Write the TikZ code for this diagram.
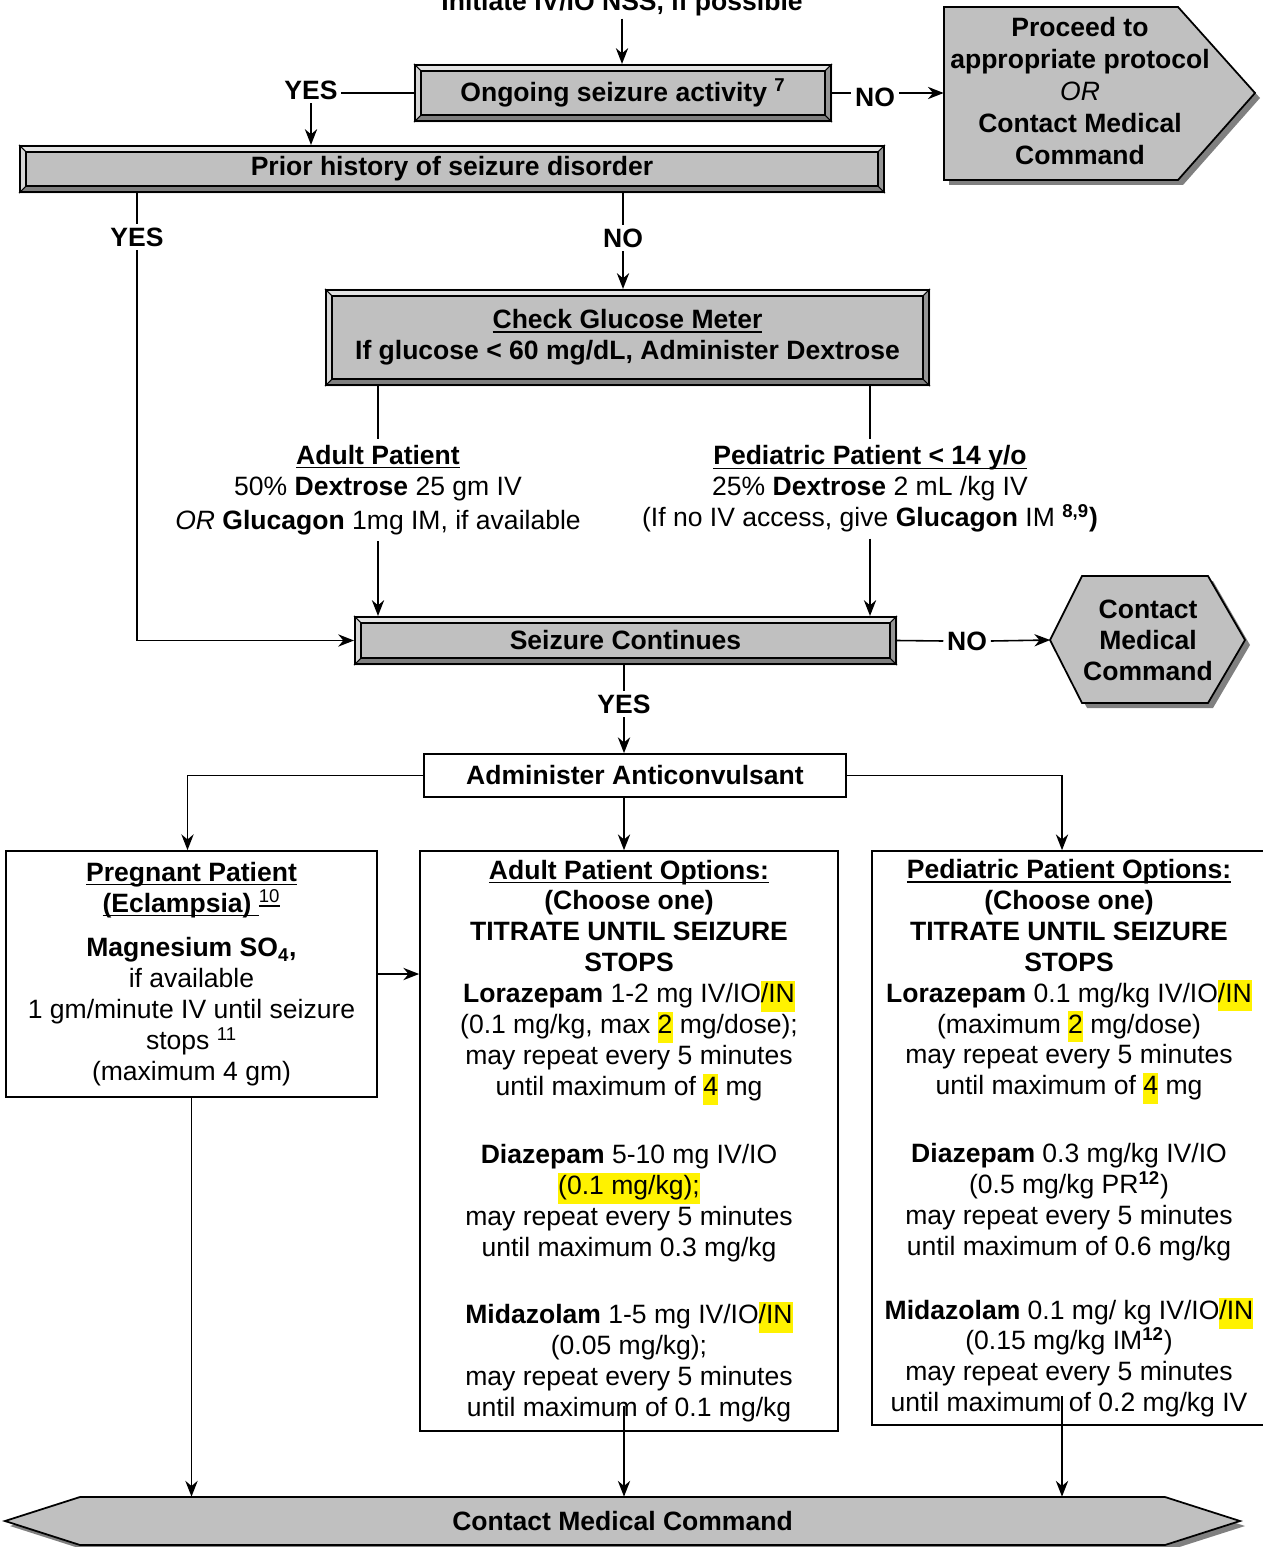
\documentclass[tikz,border=0pt]{standalone}
\usepackage{fontspec}
\setmainfont{Liberation Sans}
\usetikzlibrary{arrows.meta, positioning, calc}
\pgfdeclarelayer{background}
\pgfsetlayers{background,main}

\definecolor{facegray}{HTML}{C0C0C0}
\definecolor{bevlight}{HTML}{E3E3E3}
\definecolor{bevside}{HTML}{D6D6D6}
\definecolor{bevdark}{HTML}{7F7F7F}
\definecolor{bevright}{HTML}{959595}
\definecolor{shadowgray}{HTML}{808080}

\newcommand{\flowfont}{\fontsize{15.1}{17.6}\selectfont}
\newsavebox{\ulnbox}
\newcommand{\uln}[1]{\sbox{\ulnbox}{#1}\rlap{\rule[-2.4pt]{\wd\ulnbox}{0.9pt}}\usebox{\ulnbox}}
\newcommand{\hilite}[1]{{\setlength{\fboxsep}{0pt}\colorbox{yellow}{\strut #1}}}

\begin{document}
\begin{tikzpicture}[x=0.02cm, y=-0.02cm]
    \tikzstyle{bevelbox} = [rectangle, draw, line width=1.2pt, font=\flowfont\bfseries, align=center, inner sep=0pt]
    \tikzstyle{plainbox} = [rectangle, draw, line width=1pt, fill=white, font=\flowfont, align=center, inner sep=0pt]
    \tikzstyle{shapetext} = [font=\flowfont\bfseries, align=center, inner sep=0pt]
    \tikzstyle{yesno} = [font=\flowfont\bfseries, inner sep=2pt]
    \tikzstyle{arrow} = [line width=0.9pt,->,>={Stealth[length=9pt,width=7pt]}]
    \tikzstyle{link} = [line width=0.9pt]

    \useasboundingbox (0,0) rectangle (1262,1547);

    \node (init) [yesno, anchor=base, inner sep=1pt] at (622,11) {Initiate IV/IO NSS, if possible};
    \node (ongoing) [bevelbox, minimum width=8.32cm, minimum height=1.12cm] at (623,93) {Ongoing seizure activity \textsuperscript{7}};
    \node (yesA) [yesno] at (311,90) {YES};
    \node (noA) [yesno] at (875,97) {NO};
    \node (proceed) [shapetext, font=\fontsize{15.1}{18.2}\selectfont\bfseries, minimum width=5.44cm, minimum height=3.46cm] at (1080,91) {Proceed to\\appropriate protocol\\\textnormal{\itshape OR}\\Contact Medical\\Command};
    \node (prior) [bevelbox, minimum width=17.28cm, minimum height=0.92cm] at (452,169) {Prior history of seizure disorder};
    \node (yesB) [yesno] at (137,237) {YES};
    \node (noB) [yesno] at (623,238) {NO};
    \node (glucose) [bevelbox, minimum width=12.06cm, minimum height=1.9cm] at (627.5,337.5) {\uln{Check Glucose Meter}\\If glucose < 60 mg/dL, Administer Dextrose};
    \node (adultdex) [font=\flowfont, align=center] at (378,490) {\textbf{\uln{Adult Patient}}\\50\% \textbf{Dextrose} 25 gm IV\\[2pt]\textit{OR} \textbf{Glucagon} 1mg IM, if available};
    \node (peddex) [font=\flowfont, align=center] at (870,489) {\textbf{\uln{Pediatric Patient < 14 y/o}}\\25\% \textbf{Dextrose} 2 mL /kg IV\\(If no IV access, give \textbf{Glucagon} IM \textsuperscript{\textbf{8,9}}\textbf{)}};
    \node (continues) [bevelbox, minimum width=10.82cm, minimum height=0.94cm] at (625.5,640.5) {Seizure Continues};
    \node (noC) [yesno] at (967,641) {NO};
    \node (hexa) [shapetext, minimum width=3.9cm, minimum height=2.56cm] at (1148,640) {Contact\\Medical\\Command};
    \node (yesC) [yesno] at (624,704) {YES};
    \node (admin) [plainbox, font=\flowfont\bfseries, minimum width=8.44cm, minimum height=0.86cm] at (635,775.5) {Administer Anticonvulsant};
    \node (pregnant) [plainbox, minimum width=7.42cm, minimum height=4.92cm] at (191.5,974) {\textbf{\uln{Pregnant Patient}}\\\textbf{\uln{(Eclampsia)\ }}\textsuperscript{\uln{10}}\\[8pt]\textbf{Magnesium SO\textsubscript{4},}\\if available\\1 gm/minute IV until seizure\\stops \textsuperscript{11}\\(maximum 4 gm)};
    \node (adultopt) [plainbox, minimum width=8.36cm, minimum height=11.6cm] at (629,1141) {\textbf{\uln{Adult Patient Options:}}\\\textbf{(Choose one)}\\\textbf{TITRATE UNTIL SEIZURE}\\\textbf{STOPS}\\\textbf{Lorazepam} 1-2 mg IV/IO\hilite{/IN}\\(0.1 mg/kg, max \hilite{2} mg/dose);\\may repeat every 5 minutes\\until maximum of \hilite{4} mg\\[21pt]\textbf{Diazepam} 5-10 mg IV/IO\\\hilite{(0.1 mg/kg);}\\may repeat every 5 minutes\\until maximum 0.3 mg/kg\\[21pt]\textbf{Midazolam} 1-5 mg IV/IO\hilite{/IN}\\(0.05 mg/kg);\\may repeat every 5 minutes\\until maximum of 0.1 mg/kg};
    \node (pedopt) [plainbox, minimum width=7.88cm, minimum height=11.48cm] at (1069,1138) {\textbf{\uln{Pediatric Patient Options:}}\\\textbf{(Choose one)}\\\textbf{TITRATE UNTIL SEIZURE}\\\textbf{STOPS}\\\textbf{Lorazepam} 0.1 mg/kg IV/IO\hilite{/IN}\\(maximum \hilite{2} mg/dose)\\may repeat every 5 minutes\\until maximum of \hilite{4} mg\\[21pt]\textbf{Diazepam} 0.3 mg/kg IV/IO\\(0.5 mg/kg PR\textsuperscript{\textbf{12}})\\may repeat every 5 minutes\\until maximum of 0.6 mg/kg\\[19pt]\textbf{Midazolam} 0.1 mg/ kg IV/IO\hilite{/IN}\\[-2pt](0.15 mg/kg IM\textsuperscript{\textbf{12}})\\may repeat every 5 minutes\\until maximum of 0.2 mg/kg IV};
    \node (contact) [shapetext, minimum width=24.7cm, minimum height=0.96cm] at (622.5,1521) {Contact Medical Command};

    % Shapes behind the nodes
    \begin{pgfonlayer}{background}
    \begin{scope}[shift={(5,5)}]
        \fill[shadowgray] (944,7) -- (1178,7) -- (1255,93) -- (1178,180) -- (944,180) -- cycle;
        \fill[shadowgray] (1050,640) -- (1082,576) -- (1208,576) -- (1245,640) -- (1208,703) -- (1082,703) -- cycle;
        \fill[shadowgray] (5,1521) -- (80,1497) -- (1165,1497) -- (1240,1521) -- (1165,1545) -- (80,1545) -- cycle;
    \end{scope}
    \filldraw[fill=facegray, line width=1pt] (944,7) -- (1178,7) -- (1255,93) -- (1178,180) -- (944,180) -- cycle;
    \filldraw[fill=facegray, line width=1pt] (1050,640) -- (1082,576) -- (1208,576) -- (1245,640) -- (1208,703) -- (1082,703) -- cycle;
    \filldraw[fill=facegray, line width=1pt] (5,1521) -- (80,1497) -- (1165,1497) -- (1240,1521) -- (1165,1545) -- (80,1545) -- cycle;
    \foreach \n in {ongoing,prior,glucose,continues}{
        \fill[facegray] (\n.north west) rectangle (\n.south east);
        \fill[bevlight] (\n.north west) -- (\n.north east) -- ([shift={(-7,7)}]\n.north east) -- ([shift={(7,7)}]\n.north west) -- cycle;
        \fill[bevside] (\n.north west) -- ([shift={(7,7)}]\n.north west) -- ([shift={(7,-7)}]\n.south west) -- (\n.south west) -- cycle;
        \fill[bevdark] (\n.south west) -- ([shift={(7,-7)}]\n.south west) -- ([shift={(-7,-7)}]\n.south east) -- (\n.south east) -- cycle;
        \fill[bevright] (\n.south east) -- ([shift={(-7,-7)}]\n.south east) -- ([shift={(-7,7)}]\n.north east) -- (\n.north east) -- cycle;
        \draw[line width=0.8pt] ([shift={(7,7)}]\n.north west) rectangle ([shift={(-7,-7)}]\n.south east);
        \draw[line width=0.6pt] (\n.north west) -- ([shift={(7,7)}]\n.north west) (\n.north east) -- ([shift={(-7,7)}]\n.north east) (\n.south west) -- ([shift={(7,-7)}]\n.south west) (\n.south east) -- ([shift={(-7,-7)}]\n.south east);
    }
    \end{pgfonlayer}

    % Arrows
    \draw [arrow] (init.south) -- (init.south |- ongoing.north);
    \draw [link] (ongoing.west) -- (ongoing.west -| yesA.east);
    \draw [arrow] (yesA.south) -- (yesA.south |- prior.north);
    \draw [link] (ongoing.east) -- (ongoing.east -| noA.west);
    \draw [arrow] (noA.east |- ongoing.east) -- (proceed.west |- ongoing.east);
    \draw [link] (prior.south -| yesB) -- (yesB.north);
    \draw [arrow] (yesB.south) |- (continues.west);
    \draw [link] (prior.south -| noB) -- (noB.north);
    \draw [arrow] (noB.south) -- (noB.south |- glucose.north);
    \draw [link] (glucose.south -| adultdex) -- (adultdex.north);
    \draw [link] (glucose.south -| peddex) -- (peddex.north);
    \draw [arrow] (adultdex.south) -- (adultdex.south |- continues.north);
    \draw [arrow] (peddex.south) -- (peddex.south |- continues.north);
    \draw [link] (continues.east) -- (noC.west);
    \draw [arrow] (noC.east) -- (hexa.west);
    \draw [link] (continues.south -| yesC) -- (yesC.north);
    \draw [arrow] (yesC.south) -- (yesC.south |- admin.north);
    \draw [arrow] (admin.west) -| ([xshift=-0.08cm]pregnant.north);
    \draw [arrow] (admin.south -| yesC) -- (adultopt.north -| yesC);
    \draw [arrow] (admin.east) -| ([xshift=-0.14cm]pedopt.north);
    \draw [arrow] (pregnant.east) -- (pregnant.east -| adultopt.west);
    \draw [arrow] (pregnant.south) -- (pregnant.south |- contact.north);
    \draw [arrow] ($(adultopt.south -| yesC)+(0,-26)$) -- (yesC |- contact.north);
    \draw [arrow] ($(pedopt.south)+(-7,-30)$) -- ($(pedopt.south |- contact.north)+(-7,0)$);
\end{tikzpicture}
\end{document}
